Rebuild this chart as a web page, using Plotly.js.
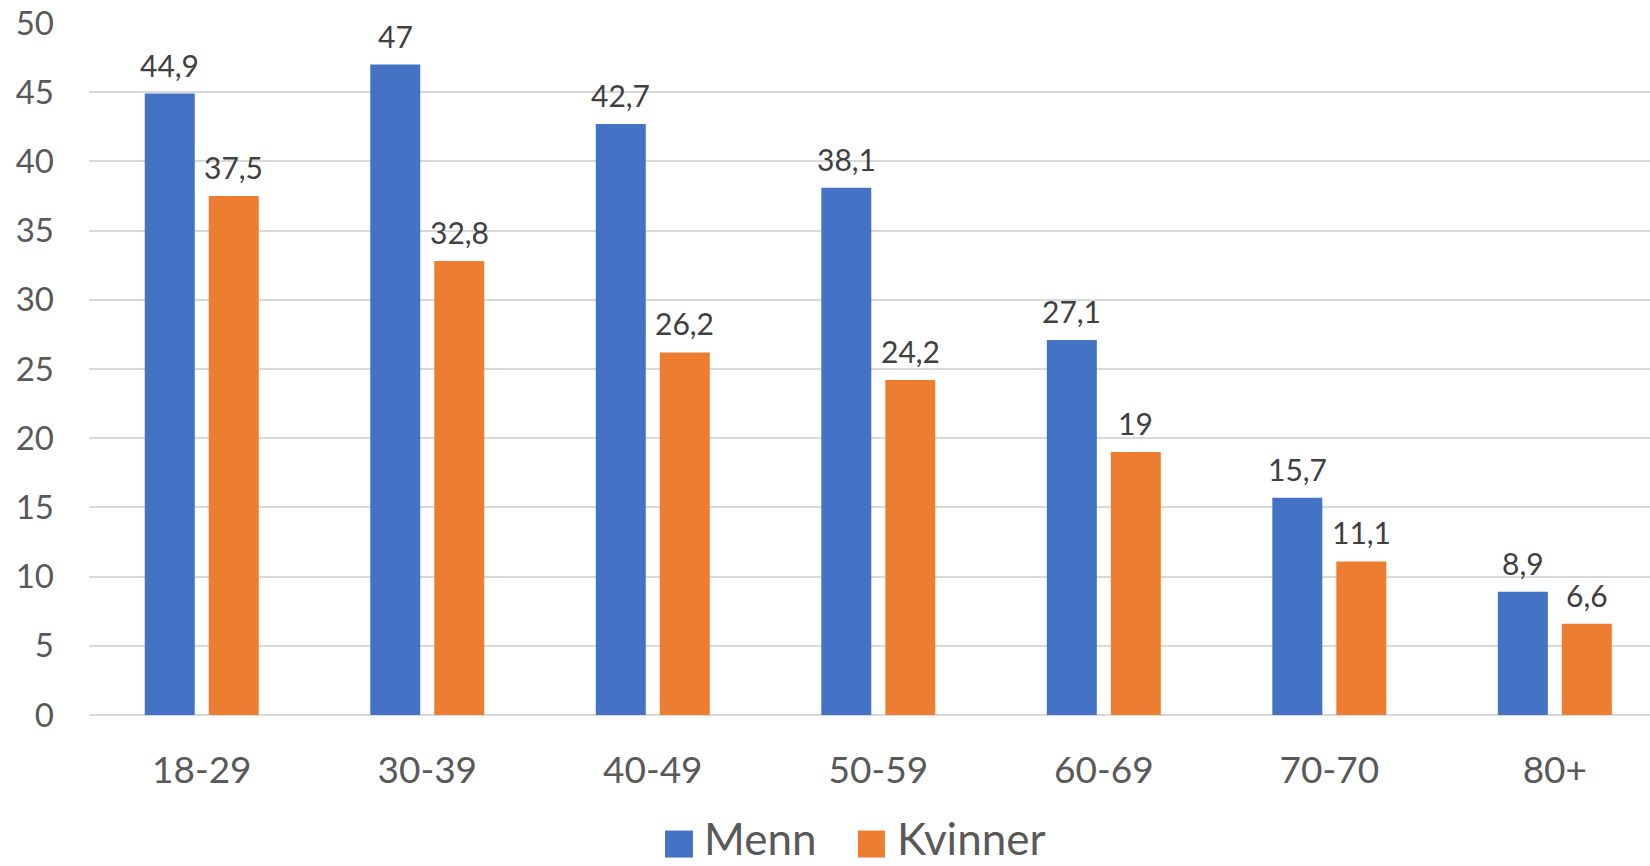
<!DOCTYPE html>
<html>
<head>
<meta charset="utf-8">
<script src="https://cdn.plot.ly/plotly-3.0.1.min.js"></script>
<style>html,body{margin:0;padding:0;background:#fff;}#chart{width:1650px;height:866px;}</style>
</head>
<body>
<div id="chart"></div>
<script>
const categories = ["18-29", "30-39", "40-49", "50-59", "60-69", "70-70", "80+"];
const menn = [44.9, 47, 42.7, 38.1, 27.1, 15.7, 8.9];
const kvinner = [37.5, 32.8, 26.2, 24.2, 19, 11.1, 6.6];
const seriesNames = ["Menn", "Kvinner"];
const colors = ["#4472c4", "#ed7d31"];

const FONT = "Lato, 'Open Sans', sans-serif";
const series = [menn, kvinner];

const traces = series.map((vals, i) => ({
  type: "bar",
  name: seriesNames[i],
  x: categories,
  y: vals,
  marker: {color: colors[i]},
  hoverinfo: "x+y+name",
  showlegend: false
}));

function fmt(v) { return String(v).replace(".", ","); }

const labelAnn = [];
series.forEach((vals, i) => {
  vals.forEach((v, j) => {
    labelAnn.push({
      xref: "x", yref: "y",
      x: categories[j], y: v,
      xshift: i === 0 ? -32 : 32,
      yshift: 29,
      xanchor: "center", yanchor: "middle",
      showarrow: false,
      text: fmt(v),
      font: {family: FONT, size: 30, color: "#404040"}
    });
  });
});

// legend keys (layout decoration)
const keyX = [[0.369, 0.3869], [0.4926, 0.5099]];
const textX = [0.3927, 0.5163];
const legendShapes = seriesNames.map((n, i) => ({
  type: "rect", xref: "paper", yref: "paper",
  x0: keyX[i][0], x1: keyX[i][1], y0: -0.2060, y1: -0.1670,
  fillcolor: colors[i], line: {width: 0}
}));
const legendAnn = seriesNames.map((n, i) => ({
  xref: "paper", yref: "paper",
  x: textX[i], y: -0.2175,
  xanchor: "left", yanchor: "bottom",
  showarrow: false,
  text: n,
  font: {family: FONT, size: 44, color: "#595959"}
}));

const layout = {
  width: 1650, height: 866,
  margin: {l: 89, r: 0, t: 23, b: 151, pad: 0},
  paper_bgcolor: "#ffffff",
  plot_bgcolor: "#ffffff",
  separators: ", ",
  barmode: "group",
  bargap: 0.4324,
  bargroupgap: 0.21875,
  showlegend: false,
  xaxis: {
    type: "category",
    range: [-0.5, 6.422],
    showgrid: false,
    showline: false,
    zeroline: false,
    ticks: "",
    ticklabelstandoff: 30,
    tickfont: {family: FONT, size: 37, color: "#595959"}
  },
  yaxis: {
    range: [0, 50],
    dtick: 5,
    tick0: 0,
    showgrid: true,
    gridcolor: "#d9d9d9",
    gridwidth: 2,
    zeroline: true,
    zerolinecolor: "#d9d9d9",
    zerolinewidth: 2,
    showline: false,
    ticks: "",
    ticklabelstandoff: 34,
    tickfont: {family: FONT, size: 33, color: "#595959"}
  },
  shapes: legendShapes,
  annotations: labelAnn.concat(legendAnn)
};

Plotly.newPlot("chart", traces, layout, {displayModeBar: false, staticPlot: true});
</script>
</body>
</html>
